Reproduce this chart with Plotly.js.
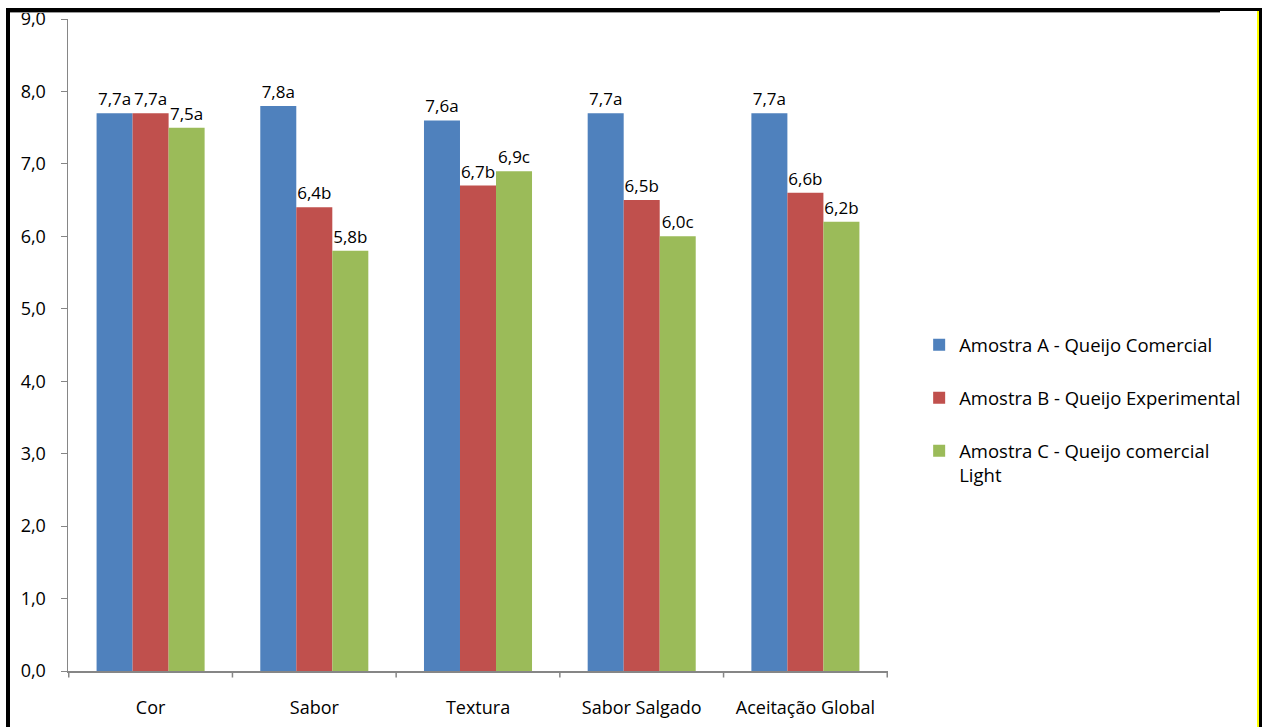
<!DOCTYPE html>
<html><head><meta charset="utf-8">
<script src="https://cdn.plot.ly/plotly-3.0.1.min.js"></script>
<style>
html,body{margin:0;padding:0;background:#fff;}
#wrap{position:relative;width:1265px;height:727px;overflow:hidden;}
#chart{position:absolute;left:0;top:0;width:1265px;height:727px;}
.b{position:absolute;background:#000;}
</style></head><body>
<div id="wrap">
<div id="chart"></div>
<div class="b" style="left:6px;top:8px;width:4px;height:719px;"></div>
<div class="b" style="left:6px;top:8px;width:1214px;height:4px;"></div>
<div class="b" style="left:10px;top:12px;width:1210px;height:1px;background:#9a9a9a;"></div>
<div class="b" style="left:1220px;top:8px;width:42px;height:3px;"></div>
<div class="b" style="left:1257px;top:11px;width:2px;height:716px;background:#ffff00;"></div>
<div class="b" style="left:1259px;top:8px;width:3px;height:719px;"></div>
</div>
<script>
const categories = ['Cor','Sabor','Textura','Sabor Salgado','Aceitação Global'];
const seriesNames = ['Amostra A - Queijo Comercial','Amostra B - Queijo Experimental','Amostra C - Queijo comercial<br>Light'];
const valuesA = [7.7, 7.8, 7.6, 7.7, 7.7];
const valuesB = [7.7, 6.4, 6.7, 6.5, 6.6];
const valuesC = [7.5, 5.8, 6.9, 6.0, 6.2];
const lettersA = ['a','a','a','a','a'];
const lettersB = ['a','b','b','b','b'];
const lettersC = ['a','b','c','c','b'];
const colors = ['#4f81bd','#c0504d','#9bbb59'];
const yTicks = [0,1,2,3,4,5,6,7,8,9];
const yTickText = yTicks.map(v => v.toFixed(1).replace('.', ','));

function lbl(vals, letters){ return vals.map((v,i)=> v.toFixed(1).replace('.', ',') + letters[i]); }

const FONT = '"Open Sans", sans-serif';
const series = [[valuesA,lettersA],[valuesB,lettersB],[valuesC,lettersC]];
const traces = series.map((s,i)=>({
  type:'bar', x:categories, y:s[0], name:seriesNames[i], legendgroup:'g'+i,
  marker:{color:colors[i]},
  text:lbl(s[0], s[1]), textposition:'outside', cliponaxis:false,
  textfont:{family:FONT, size:17, color:'#000'},
  hoverinfo:'none'
}));

const layout = {
  width:1265, height:727,
  margin:{l:68, r:377, t:19, b:56},
  paper_bgcolor:'rgba(0,0,0,0)', plot_bgcolor:'rgba(0,0,0,0)',
  barmode:'group', bargap:0.34, bargroupgap:0,
  font:{family:FONT, size:18, color:'#000'},
  xaxis:{showline:true, linecolor:'#868686', linewidth:1.5, ticks:'', showgrid:false,
         tickfont:{size:18}, ticklabelstandoff:20},
  yaxis:{range:[0,9], tickvals:yTicks, ticktext:yTickText, showline:true, linecolor:'#868686',
         linewidth:1.5, ticks:'outside', ticklen:6, tickcolor:'#868686', showgrid:false,
         zeroline:false, tickfont:{size:18}, ticklabelstandoff:11},
  legend:{x:1.038, xanchor:'left', y:0.40, yanchor:'middle', font:{size:18.5, color:'#000'},
          tracegroupgap:26, itemwidth:30, traceorder:'grouped', valign:'top'},
  showlegend:true
};
const shapes = [];
for(let i=0;i<=categories.length;i++){
  shapes.push({type:'line', xref:'x', yref:'paper', x0:i-0.5, x1:i-0.5, y0:0, y1:-0.01,
    line:{color:'#868686', width:1.5}});
}
layout.shapes = shapes;
Plotly.newPlot('chart', traces, layout, {displayModeBar:false, staticPlot:true});
</script>
</body></html>
